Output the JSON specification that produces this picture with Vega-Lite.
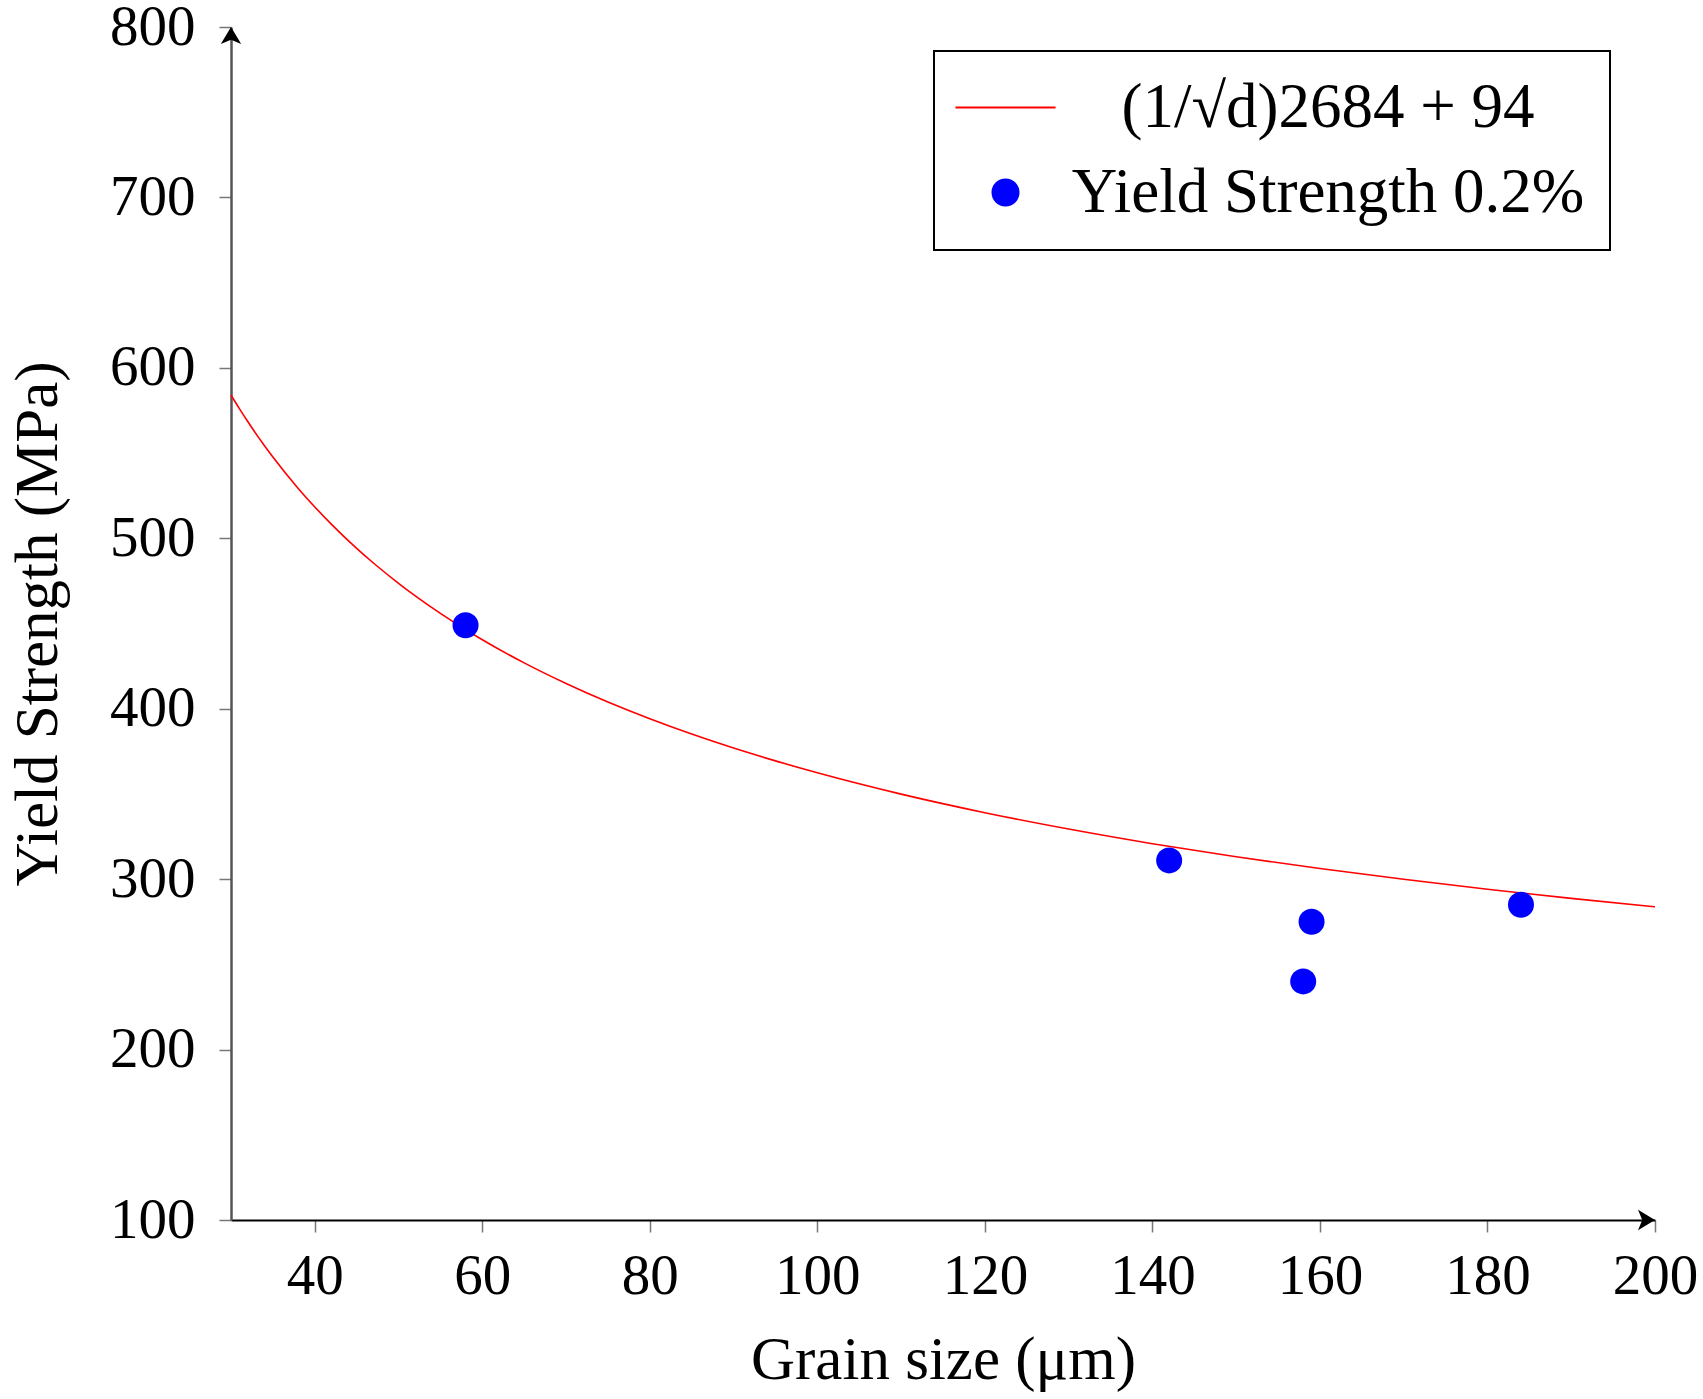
{
  "$schema": "https://vega.github.io/schema/vega-lite/v6.json",
  "width": 1424,
  "height": 1193,
  "autosize": {"type": "none"},
  "padding": {"left": 231, "top": 27, "right": 48, "bottom": 179},
  "background": "white",
  "config": {
    "view": {"stroke": null},
    "font": "Liberation Serif",
    "axis": {
      "labelFont": "Liberation Serif",
      "titleFont": "Liberation Serif",
      "labelFontSize": 57,
      "titleFontSize": 61,
      "labelColor": "black",
      "titleColor": "black",
      "titleFontWeight": "normal",
      "grid": false,
      "tickSize": 12,
      "tickColor": "#777777",
      "tickWidth": 1.5
    }
  },
  "datasets": {
    "curve": [
      {"d": 30, "ys": 584.0, "series": "(1/√d)2684 + 94"},
      {"d": 31, "ys": 576.1, "series": "(1/√d)2684 + 94"},
      {"d": 32, "ys": 568.5, "series": "(1/√d)2684 + 94"},
      {"d": 34, "ys": 554.3, "series": "(1/√d)2684 + 94"},
      {"d": 35, "ys": 547.7, "series": "(1/√d)2684 + 94"},
      {"d": 38, "ys": 529.4, "series": "(1/√d)2684 + 94"},
      {"d": 40, "ys": 518.4, "series": "(1/√d)2684 + 94"},
      {"d": 42, "ys": 508.2, "series": "(1/√d)2684 + 94"},
      {"d": 45, "ys": 494.1, "series": "(1/√d)2684 + 94"},
      {"d": 47, "ys": 485.5, "series": "(1/√d)2684 + 94"},
      {"d": 50, "ys": 473.6, "series": "(1/√d)2684 + 94"},
      {"d": 52, "ys": 466.2, "series": "(1/√d)2684 + 94"},
      {"d": 55, "ys": 455.9, "series": "(1/√d)2684 + 94"},
      {"d": 57, "ys": 449.5, "series": "(1/√d)2684 + 94"},
      {"d": 60, "ys": 440.5, "series": "(1/√d)2684 + 94"},
      {"d": 65, "ys": 426.9, "series": "(1/√d)2684 + 94"},
      {"d": 70, "ys": 414.8, "series": "(1/√d)2684 + 94"},
      {"d": 75, "ys": 403.9, "series": "(1/√d)2684 + 94"},
      {"d": 80, "ys": 394.1, "series": "(1/√d)2684 + 94"},
      {"d": 85, "ys": 385.1, "series": "(1/√d)2684 + 94"},
      {"d": 90, "ys": 376.9, "series": "(1/√d)2684 + 94"},
      {"d": 95, "ys": 369.4, "series": "(1/√d)2684 + 94"},
      {"d": 100, "ys": 362.4, "series": "(1/√d)2684 + 94"},
      {"d": 110, "ys": 349.9, "series": "(1/√d)2684 + 94"},
      {"d": 120, "ys": 339.0, "series": "(1/√d)2684 + 94"},
      {"d": 130, "ys": 329.4, "series": "(1/√d)2684 + 94"},
      {"d": 140, "ys": 320.8, "series": "(1/√d)2684 + 94"},
      {"d": 150, "ys": 313.1, "series": "(1/√d)2684 + 94"},
      {"d": 160, "ys": 306.2, "series": "(1/√d)2684 + 94"},
      {"d": 170, "ys": 299.9, "series": "(1/√d)2684 + 94"},
      {"d": 180, "ys": 294.1, "series": "(1/√d)2684 + 94"},
      {"d": 190, "ys": 288.7, "series": "(1/√d)2684 + 94"},
      {"d": 200, "ys": 283.8, "series": "(1/√d)2684 + 94"}
    ],
    "pts": [
      {"d": 58, "ys": 449, "series": "Yield Strength 0.2%"},
      {"d": 142, "ys": 311, "series": "Yield Strength 0.2%"},
      {"d": 159, "ys": 275, "series": "Yield Strength 0.2%"},
      {"d": 158, "ys": 240, "series": "Yield Strength 0.2%"},
      {"d": 184, "ys": 285, "series": "Yield Strength 0.2%"}
    ],
    "arrows": [
      {"d": 200, "ys": 100, "dir": "right"},
      {"d": 30, "ys": 800, "dir": "up"}
    ]
  },
  "encoding": {
    "x": {
      "field": "d", "type": "quantitative",
      "scale": {"domain": [30, 200], "nice": false, "zero": false},
      "axis": {
        "title": "Grain size (μm)",
        "values": [40, 60, 80, 100, 120, 140, 160, 180, 200],
        "domainColor": "black", "domainWidth": 2,
        "labelPadding": 16, "titlePadding": 26, "labelFlush": false
      }
    },
    "y": {
      "field": "ys", "type": "quantitative",
      "scale": {"domain": [100, 800], "nice": false, "zero": false},
      "axis": {
        "title": "Yield Strength (MPa)",
        "values": [100, 200, 300, 400, 500, 600, 700, 800],
        "domainColor": "#555555", "domainWidth": 2.5,
        "labelPadding": 24, "titlePadding": 40, "labelFlush": false
      }
    }
  },
  "layer": [
    {
      "data": {"name": "curve"},
      "mark": {"type": "line", "color": "#ff0000", "strokeWidth": 1.6, "interpolate": "monotone"},
      "encoding": {
        "color": {
          "field": "series", "type": "nominal",
          "scale": {"domain": ["(1/√d)2684 + 94", "Yield Strength 0.2%"], "range": ["#ff0000", "#0000ff"]},
          "legend": {
            "title": null,
            "orient": "none",
            "legendX": 703,
            "legendY": 24,
            "strokeColor": "black",
            "fillColor": "white",
            "padding": 25,
            "rowPadding": 21,
            "labelFont": "Liberation Serif",
            "labelFontSize": 63,
            "labelColor": "black",
            "labelLimit": 2000,
            "labelAlign": "center",
            "labelOffset": 291,
            "symbolSize": 676,
            "symbolOffset": 15,
            "encode": {
              "legend": {"update": {"strokeWidth": {"value": 2}}},
              "symbols": {"update": {
                "shape": {"signal": "datum.value === 'Yield Strength 0.2%' ? 'circle' : 'M-3.85,0L3.85,0'"},
                "size": {"value": 676},
                "fill": {"signal": "datum.value === 'Yield Strength 0.2%' ? '#0000ff' : 'transparent'"},
                "stroke": {"signal": "datum.value === 'Yield Strength 0.2%' ? 'transparent' : '#ff0000'"},
                "strokeWidth": {"value": 2},
                "opacity": {"value": 1}
              }}
            }
          }
        }
      }
    },
    {
      "data": {"name": "pts"},
      "mark": {"type": "point", "filled": true, "size": 676, "opacity": 1, "shape": "circle"},
      "encoding": {
        "color": {"field": "series", "type": "nominal"}
      }
    },
    {
      "data": {"name": "arrows"},
      "mark": {"type": "point", "filled": true, "size": 1156, "opacity": 1, "color": "black"},
      "encoding": {
        "shape": {
          "field": "dir", "type": "nominal",
          "scale": {"domain": ["right", "up"], "range": ["M-1,-0.6L0,0L-1,0.6L-0.75,0Z", "M-0.6,1L0,0L0.6,1L0,0.75Z"]},
          "legend": null
        }
      }
    }
  ]
}
